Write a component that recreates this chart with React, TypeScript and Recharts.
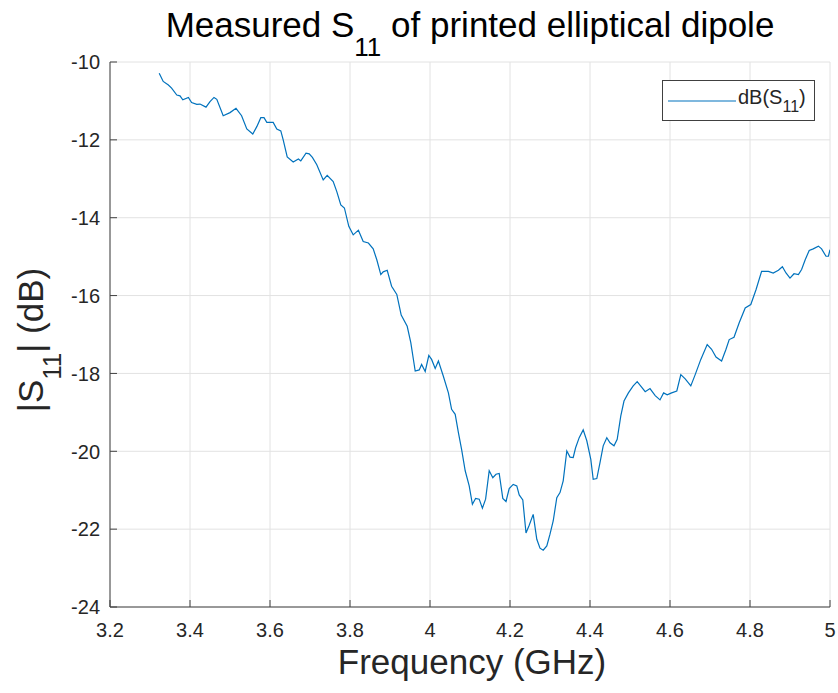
import React from "react";
import { LineChart, Line, XAxis, YAxis, CartesianGrid, Legend } from "recharts";

const FONT = '"Liberation Sans", Arial, Helvetica, sans-serif';
const AXIS = "#404040";
const LINE = "#0072BD";

const freqGHz = [
  3.323, 3.333, 3.346, 3.354, 3.367, 3.375, 3.382, 3.396, 3.404, 3.417, 3.425, 3.44, 3.45, 3.46,
  3.467, 3.483, 3.5, 3.515, 3.529, 3.542, 3.557, 3.567, 3.577, 3.585, 3.592, 3.608, 3.617, 3.627,
  3.633, 3.643, 3.658, 3.671, 3.677, 3.69, 3.698, 3.706, 3.717, 3.733, 3.743, 3.758, 3.767, 3.777,
  3.786, 3.797, 3.808, 3.821, 3.833, 3.846, 3.858, 3.867, 3.877, 3.883, 3.893, 3.904, 3.917, 3.928,
  3.943, 3.952, 3.963, 3.973, 3.979, 3.988, 3.997, 4.004, 4.013, 4.021, 4.033, 4.046, 4.054, 4.063,
  4.071, 4.079, 4.088, 4.098, 4.106, 4.114, 4.123, 4.131, 4.139, 4.148, 4.157, 4.165, 4.173, 4.182,
  4.19, 4.198, 4.208, 4.217, 4.223, 4.232, 4.24, 4.248, 4.258, 4.267, 4.275, 4.283, 4.292, 4.3,
  4.308, 4.317, 4.325, 4.333, 4.342, 4.35, 4.358, 4.364, 4.373, 4.383, 4.392, 4.402, 4.408, 4.417,
  4.425, 4.433, 4.442, 4.45, 4.46, 4.468, 4.477, 4.485, 4.496, 4.508, 4.518, 4.529, 4.538, 4.55,
  4.563, 4.575, 4.584, 4.593, 4.604, 4.617, 4.627, 4.638, 4.652, 4.663, 4.677, 4.693, 4.704, 4.715,
  4.729, 4.74, 4.748, 4.76, 4.773, 4.788, 4.802, 4.815, 4.829, 4.846, 4.858, 4.871, 4.881, 4.89,
  4.9, 4.91, 4.921, 4.929, 4.938, 4.948, 4.958, 4.971, 4.979, 4.99, 4.996, 5.0,
];

const s11dB = [
  -10.29, -10.5, -10.59, -10.67, -10.85, -10.87, -10.97, -10.91, -11.04, -11.09, -11.08, -11.16, -11.02, -10.91,
  -10.96, -11.38, -11.3, -11.19, -11.38, -11.72, -11.85, -11.66, -11.43, -11.43, -11.55, -11.55, -11.72, -11.77,
  -12.0, -12.44, -12.57, -12.49, -12.54, -12.34, -12.36, -12.45, -12.64, -13.03, -12.91, -13.07, -13.33, -13.67,
  -13.75, -14.22, -14.44, -14.32, -14.61, -14.65, -14.8, -15.08, -15.46, -15.39, -15.35, -15.76, -15.97, -16.5,
  -16.79, -17.21, -17.94, -17.91, -17.77, -17.95, -17.54, -17.64, -17.87, -17.68, -18.06, -18.5, -18.92, -19.05,
  -19.52, -19.95, -20.5, -20.89, -21.36, -21.21, -21.23, -21.46, -21.23, -20.5, -20.68, -20.59, -20.57, -21.21,
  -21.29, -20.96, -20.85, -20.89, -21.12, -21.25, -22.1, -21.9, -21.62, -22.26, -22.49, -22.54, -22.43, -22.13,
  -21.79, -21.19, -21.06, -20.76, -19.99, -20.15, -20.16, -19.91, -19.65, -19.45, -19.73, -20.21, -20.72, -20.7,
  -20.29, -19.86, -19.65, -19.78, -19.86, -19.69, -19.09, -18.71, -18.5, -18.32, -18.21, -18.35, -18.47, -18.39,
  -18.57, -18.68, -18.5, -18.55, -18.5, -18.45, -18.03, -18.14, -18.32, -18.03, -17.64, -17.26, -17.38, -17.58,
  -17.68, -17.38, -17.13, -17.07, -16.7, -16.32, -16.23, -15.85, -15.38, -15.38, -15.42, -15.35, -15.26, -15.42,
  -15.55, -15.44, -15.46, -15.33, -15.08, -14.84, -14.8, -14.73, -14.8, -14.99, -14.99, -14.82,
];

const xTicks = [3.2, 3.4, 3.6, 3.8, 4, 4.2, 4.4, 4.6, 4.8, 5];
const yTicks = [-24, -22, -20, -18, -16, -14, -12, -10];

const data = freqGHz.map((f, i) => ({ f, s: s11dB[i] }));

const TICK = 7;

function BottomTick({ x, y, payload }: any) {
  return (
    <g>
      <line x1={x} y1={y} x2={x} y2={y - TICK} stroke={AXIS} />
      <text x={x} y={y + 25} textAnchor="middle" dominantBaseline="middle" fontSize={20} fill="#262626" fontFamily={FONT}>
        {payload.value}
      </text>
    </g>
  );
}

function TopTick({ x, y }: any) {
  return <line x1={x} y1={y} x2={x} y2={y + TICK} stroke={AXIS} />;
}

function LeftTick({ x, y, payload }: any) {
  return (
    <g>
      <line x1={x} y1={y} x2={x + TICK} y2={y} stroke={AXIS} />
      <text x={x - 10} y={y + 2} textAnchor="end" dominantBaseline="middle" fontSize={20} fill="#262626" fontFamily={FONT}>
        {payload.value}
      </text>
    </g>
  );
}

function RightTick({ x, y }: any) {
  return <line x1={x} y1={y} x2={x - TICK} y2={y} stroke={AXIS} />;
}

function S11Legend() {
  return (
    <div
      style={{
        width: 151,
        height: 39,
        border: `1px solid ${AXIS}`,
        background: "#fff",
        fontFamily: FONT,
        fontSize: 20,
        color: "#262626",
        position: "relative",
      }}
    >
      <svg width={70} height={39} style={{ position: "absolute", left: 4, top: 0 }}>
        <line x1={1} y1={20} x2={69} y2={20} stroke={LINE} strokeWidth={1.2} />
      </svg>
      <div style={{ position: "absolute", left: 75, top: 4, whiteSpace: "nowrap", lineHeight: "24px" }}>
        dB(S<span style={{ fontSize: 16, position: "relative", top: 8 }}>11</span>)
      </div>
    </div>
  );
}

export default function App() {
  return (
    <div style={{ position: "absolute", left: 0, top: 0, background: "#fff" }}>
      <LineChart width={838} height={693} data={data} margin={{ top: 62, right: 8, bottom: 0, left: 0 }}>
        <CartesianGrid stroke="#e2e2e2" strokeWidth={1} />
        <XAxis
          dataKey="f"
          type="number"
          domain={[3.2, 5]}
          ticks={xTicks}
          interval={0}
          height={86}
          stroke={AXIS}
          tickLine={false}
          tickSize={0}
          tickMargin={0}
          tick={<BottomTick />}
          allowDataOverflow
        />
        <XAxis
          xAxisId="top"
          orientation="top"
          dataKey="f"
          type="number"
          domain={[3.2, 5]}
          ticks={xTicks}
          interval={0}
          height={0}
          stroke={AXIS}
          tickLine={false}
          tickSize={0}
          tickMargin={0}
          tick={<TopTick />}
        />
        <YAxis
          type="number"
          domain={[-24, -10]}
          ticks={yTicks}
          interval={0}
          width={110}
          stroke={AXIS}
          tickLine={false}
          tickSize={0}
          tickMargin={0}
          tick={<LeftTick />}
          allowDataOverflow
        />
        <YAxis
          yAxisId="right"
          orientation="right"
          type="number"
          domain={[-24, -10]}
          ticks={yTicks}
          interval={0}
          width={0}
          stroke={AXIS}
          tickLine={false}
          tickSize={0}
          tickMargin={0}
          tick={<RightTick />}
        />
        <Line
          type="linear"
          dataKey="s"
          name="dB(S11)"
          stroke={LINE}
          strokeWidth={1.2}
          dot={false}
          isAnimationActive={false}
        />
        <Legend
          layout="horizontal"
          verticalAlign="middle"
          align="center"
          content={<S11Legend />}
          wrapperStyle={{ position: "absolute", left: 662, top: 80, width: 153, height: 41 }}
        />
        <text x={470} y={37} textAnchor="middle" fontSize={35} fill="#000" fontFamily={FONT}>
          Measured S
          <tspan fontSize={26} dy={19}>11</tspan>
          <tspan dy={-19}> of printed elliptical dipole</tspan>
        </text>
        <text x={472} y={674} textAnchor="middle" fontSize={35} fill="#262626" fontFamily={FONT}>
          Frequency (GHz)
        </text>
        <text
          x={0}
          y={0}
          transform="translate(43,340) rotate(-90)"
          textAnchor="middle"
          fontSize={35}
          fill="#262626"
          fontFamily={FONT}
        >
          |S
          <tspan fontSize={26} dy={18}>11</tspan>
          <tspan dy={-18}>| (dB)</tspan>
        </text>
      </LineChart>
    </div>
  );
}
